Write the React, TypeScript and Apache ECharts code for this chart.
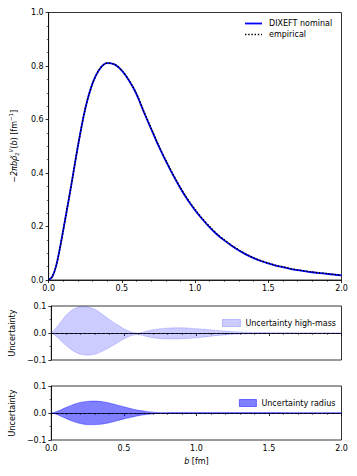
import React, { useEffect, useRef } from 'react';
import * as echarts from 'echarts';

const bValues = [
  0.0, 0.025, 0.05, 0.075, 0.1, 0.15, 0.2, 0.25, 0.3, 0.35, 0.4, 0.45,
  0.5, 0.55, 0.6, 0.65, 0.7, 0.75, 0.8, 0.85, 0.9, 0.95,
  1.0, 1.05, 1.1, 1.15, 1.2, 1.25, 1.3, 1.35, 1.4, 1.45,
  1.5, 1.55, 1.6, 1.65, 1.7, 1.75, 1.8, 1.85, 1.9, 1.95, 2.0,
];

const nominal = [
  0.0, 0.012, 0.05, 0.113, 0.187, 0.34, 0.5, 0.64, 0.735, 0.79, 0.811, 0.806,
  0.783, 0.745, 0.695, 0.628, 0.565, 0.502, 0.445, 0.392, 0.343, 0.299,
  0.261, 0.227, 0.197, 0.17, 0.148, 0.128, 0.11, 0.095, 0.082, 0.071,
  0.062, 0.054, 0.048, 0.042, 0.037, 0.033, 0.029, 0.026, 0.023, 0.02, 0.017,
];

const empirical = [
  0.0, 0.012, 0.049, 0.112, 0.186, 0.34, 0.5, 0.64, 0.735, 0.79, 0.811, 0.806,
  0.784, 0.746, 0.697, 0.631, 0.568, 0.505, 0.448, 0.395, 0.346, 0.302,
  0.264, 0.23, 0.2, 0.172, 0.15, 0.13, 0.112, 0.096, 0.083, 0.072,
  0.063, 0.055, 0.049, 0.043, 0.038, 0.034, 0.03, 0.027, 0.024, 0.021, 0.018,
];

const highMassUpper = [
  0.0, 0.014, 0.03, 0.048, 0.065, 0.088, 0.097, 0.096, 0.088, 0.07, 0.05, 0.032,
  0.016, 0.004, 0.0, 0.006, 0.012, 0.016, 0.018, 0.019, 0.019, 0.018,
  0.016, 0.014, 0.012, 0.009, 0.007, 0.005, 0.004, 0.003, 0.002, 0.0015,
  0.001, 0.0008, 0.0006, 0.0005, 0.0004, 0.0003, 0.0002, 0.0002, 0.0001, 0.0001, 0.0001,
];

const highMassLower = [
  0.0, -0.009, -0.02, -0.033, -0.045, -0.066, -0.079, -0.082, -0.079, -0.068, -0.054, -0.038,
  -0.022, -0.01, -0.006, -0.012, -0.018, -0.021, -0.022, -0.022, -0.021, -0.02,
  -0.018, -0.015, -0.012, -0.009, -0.007, -0.005, -0.004, -0.003, -0.002, -0.0015,
  -0.001, -0.0008, -0.0006, -0.0005, -0.0004, -0.0003, -0.0002, -0.0002, -0.0001, -0.0001, -0.0001,
];

const radiusUpper = [
  0.0, 0.003, 0.008, 0.014, 0.02, 0.031, 0.039, 0.043, 0.044, 0.042, 0.037, 0.03,
  0.023, 0.016, 0.01, 0.006, 0.003, 0.0008, 0.001, 0.0015, 0.002, 0.002,
  0.002, 0.002, 0.002, 0.002, 0.002, 0.002, 0.0018, 0.0018, 0.0016, 0.0016,
  0.0015, 0.0014, 0.0013, 0.0012, 0.0012, 0.0011, 0.001, 0.001, 0.001, 0.001, 0.001,
];

const radiusLower = [
  0.0, -0.003, -0.008, -0.014, -0.02, -0.031, -0.039, -0.043, -0.043, -0.041, -0.036, -0.029,
  -0.022, -0.016, -0.01, -0.006, -0.003, -0.0008, -0.001, -0.0015, -0.002, -0.002,
  -0.002, -0.002, -0.002, -0.002, -0.002, -0.002, -0.0018, -0.0018, -0.0016, -0.0016,
  -0.0015, -0.0014, -0.0013, -0.0012, -0.0012, -0.0011, -0.001, -0.001, -0.001, -0.001, -0.001,
];

const legendNames = ['DIXEFT nominal', 'empirical'];

const FONT = 'DejaVu Sans';

const fmt = (v: number) => {
  const s = Math.abs(v) < 1e-9 ? '0.0' : v.toFixed(1);
  return s.replace('-', '\u2212');
};

function makeXAxis(gridIndex: number, showLabels: boolean, name?: string) {
  return {
    type: 'value',
    gridIndex,
    min: 0,
    max: 2,
    interval: 0.5,
    name: name || '',
    nameLocation: 'middle',
    nameGap: 17,
    nameTextStyle: {
      color: '#000',
      fontSize: 8,
      fontFamily: FONT,
      rich: {
        it: { fontStyle: 'italic', fontSize: 8, fontFamily: FONT, color: '#000' },
        n: { fontSize: 8, fontFamily: FONT, color: '#000' },
      },
    },
    axisLine: { show: true, lineStyle: { color: '#000', width: 0.8 } },
    axisTick: { show: true, inside: false, length: 3, lineStyle: { color: '#000', width: 0.8 } },
    minorTick: { show: true, splitNumber: 5, length: 1.8, lineStyle: { color: '#000', width: 0.6 } },
    splitLine: { show: false },
    axisLabel: {
      show: showLabels,
      margin: 4,
      color: '#000',
      fontSize: 8,
      fontFamily: FONT,
      formatter: fmt,
    },
  };
}

function makeYAxis(gridIndex: number, min: number, max: number, interval: number, minorSplit: number, name: string, nameGap: number, rich?: any) {
  return {
    type: 'value',
    gridIndex,
    min,
    max,
    interval,
    name,
    nameLocation: 'middle',
    nameGap,
    nameRotate: 90,
    nameTextStyle: {
      color: '#000',
      fontSize: 8,
      fontFamily: FONT,
      rich,
    },
    axisLine: { show: true, lineStyle: { color: '#000', width: 0.8 } },
    axisTick: { show: true, inside: false, length: 3, lineStyle: { color: '#000', width: 0.8 } },
    minorTick: { show: true, splitNumber: minorSplit, length: 1.8, lineStyle: { color: '#000', width: 0.6 } },
    splitLine: { show: false },
    axisLabel: {
      margin: 5,
      color: '#000',
      fontSize: 8,
      fontFamily: FONT,
      formatter: fmt,
    },
  };
}

function bandSeries(name: string, upper: number[], lower: number[], axisIndex: number, fill: string, edge: string) {
  const data = bValues.map((b, i) => [b, lower[i], upper[i]]);
  return {
    type: 'custom',
    name,
    xAxisIndex: axisIndex,
    yAxisIndex: axisIndex,
    clip: true,
    data,
    encode: { x: 0, y: [1, 2] },
    itemStyle: { color: fill },
    renderItem: (params: any, api: any) => {
      if (params.dataIndex !== 0) return null;
      const top = data.map((d) => api.coord([d[0], d[2]]));
      const bot = data.map((d) => api.coord([d[0], d[1]])).reverse();
      return {
        type: 'polygon',
        shape: { points: top.concat(bot), smooth: 0.25 },
        style: { fill, stroke: edge, lineWidth: 0.8 },
      };
    },
    markLine: {
      silent: true,
      symbol: 'none',
      label: { show: false },
      lineStyle: { color: '#000', type: [3, 1.6], width: 0.9 },
      data: [{ yAxis: 0 }],
    },
    z: 2,
  };
}

export default function App() {
  const ref = useRef<HTMLDivElement>(null);

  useEffect(() => {
    document.body.style.margin = '0';
    if (!ref.current) return;
    const chart = echarts.init(ref.current, null, { renderer: 'svg' });

    const yRich = {
      it: { fontStyle: 'italic', fontSize: 8, fontFamily: FONT, color: '#000', lineHeight: 12, verticalAlign: 'middle' },
      n: { fontSize: 8, fontFamily: FONT, color: '#000', lineHeight: 12, verticalAlign: 'middle' },
      sub: { fontSize: 5.5, fontFamily: FONT, color: '#000', lineHeight: 6, verticalAlign: 'bottom' },
      sup: { fontSize: 5.5, fontFamily: FONT, color: '#000', lineHeight: 6, verticalAlign: 'top' },
      supi: { fontSize: 5.5, fontStyle: 'italic', fontFamily: FONT, color: '#000', lineHeight: 6, verticalAlign: 'top' },
    };

    const option: any = {
      animation: false,
      backgroundColor: '#fff',
      grid: [
        { left: 45, right: 15.5, top: 12.5, bottom: 196, show: true, borderColor: '#000', borderWidth: 0.8 },
        { left: 45, right: 15.5, top: 306, bottom: 116, show: true, borderColor: '#000', borderWidth: 0.8 },
        { left: 45, right: 15.5, top: 386, bottom: 36, show: true, borderColor: '#000', borderWidth: 0.8 },
      ],
      xAxis: [
        makeXAxis(0, true),
        makeXAxis(1, false),
        makeXAxis(2, true, '{it|b}{n| [fm]}'),
      ],
      yAxis: [
        makeYAxis(0, 0, 1, 0.2, 4, '{n|\u2212}{it|2\u03c0b\u03c1\u0303}{sub|2}{supi|V}{n|(}{it|b}{n|) [fm}{sup|\u22121}{n|]}', 20, yRich),
        makeYAxis(1, -0.1, 0.1, 0.1, 2, 'Uncertainty', 27),
        makeYAxis(2, -0.1, 0.1, 0.1, 2, 'Uncertainty', 27),
      ],
      graphic: [
        { type: 'line', shape: { x1: 245, y1: 23.5, x2: 262, y2: 23.5 }, style: { stroke: '#0000ff', lineWidth: 1.8 }, z: 10 },
        { type: 'line', shape: { x1: 245, y1: 34.5, x2: 262, y2: 34.5 }, style: { stroke: '#000', lineWidth: 1.4, lineDash: [1.4, 1.8] }, z: 10 },
        { type: 'text', x: 269, y: 23.5, style: { text: legendNames[0], fill: '#000', fontSize: 8, fontFamily: FONT, verticalAlign: 'middle', align: 'left' }, z: 10 },
        { type: 'text', x: 269, y: 34.5, style: { text: legendNames[1], fill: '#000', fontSize: 8, fontFamily: FONT, verticalAlign: 'middle', align: 'left' }, z: 10 },
      ],
      legend: [
        {
          left: 217,
          top: 314,
          itemWidth: 18,
          itemHeight: 7,
          textStyle: { fontSize: 8, fontFamily: FONT, color: '#000' },
          data: [{ name: 'Uncertainty high-mass', icon: 'rect', itemStyle: { color: 'rgba(0,0,255,0.2)', borderColor: 'rgba(0,0,255,0.25)', borderWidth: 0.8 } }],
        },
        {
          left: 234,
          top: 394,
          itemWidth: 17,
          itemHeight: 7,
          textStyle: { fontSize: 8, fontFamily: FONT, color: '#000' },
          data: [{ name: 'Uncertainty radius', icon: 'rect', itemStyle: { color: 'rgba(0,0,255,0.5)', borderColor: 'rgba(0,0,255,0.6)', borderWidth: 0.8 } }],
        },
      ],
      series: [
        {
          type: 'line',
          name: legendNames[0],
          xAxisIndex: 0,
          yAxisIndex: 0,
          data: bValues.map((b, i) => [b, nominal[i]]),
          smooth: 0.3,
          symbol: 'none',
          lineStyle: { color: '#0000ff', width: 1.8 },
          itemStyle: { color: '#0000ff' },
          z: 3,
        },
        {
          type: 'line',
          name: legendNames[1],
          xAxisIndex: 0,
          yAxisIndex: 0,
          data: bValues.map((b, i) => [b, empirical[i]]),
          smooth: 0.3,
          symbol: 'none',
          lineStyle: { color: '#000', width: 1.4, type: [1.4, 1.8] },
          itemStyle: { color: '#000' },
          z: 4,
        },
        bandSeries('Uncertainty high-mass', highMassUpper, highMassLower, 1, 'rgba(0,0,255,0.2)', 'rgba(0,0,255,0.2)'),
        bandSeries('Uncertainty radius', radiusUpper, radiusLower, 2, 'rgba(0,0,255,0.5)', 'rgba(0,0,255,0.5)'),
      ],
    };

    chart.setOption(option);
    return () => chart.dispose();
  }, []);

  return <div ref={ref} style={{ width: 357, height: 476 }} />;
}
